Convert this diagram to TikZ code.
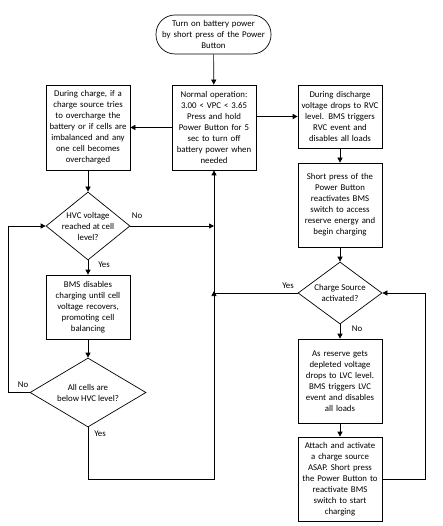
\documentclass[tikz,border=0pt]{standalone}
\usepackage{fontspec}
\setmainfont{Carlito}
\usetikzlibrary{arrows.meta,shapes.geometric}
\begin{document}
\begin{tikzpicture}[x=1pt,y=-1pt,
  every node/.style={font=\fontsize{8.8}{11}\selectfont},
  box/.style={draw, line width=0.7pt, rectangle, inner sep=0pt, minimum width=84pt, text width=82pt, align=center},
  term/.style={draw, line width=0.7pt, rectangle, rounded corners=19pt, inner sep=0pt, minimum width=115pt, minimum height=39pt, text width=110pt, align=center},
  dia/.style={draw, line width=0.7pt, diamond, inner sep=0pt},
  dtext/.style={align=center, inner sep=0pt},
  lbl/.style={inner sep=0pt},
  arr/.style={line width=0.7pt, -{Triangle[length=5pt,width=5pt]}},
  ln/.style={line width=0.7pt}]
\useasboundingbox (0,0) rectangle (442,526);

\node[term] (start) at (213.5,34.5) {Turn on battery power\\by short press of the Power\\Button};
\node[box, minimum height=85pt] (normal) at (214,127.5) {Normal operation:\\3.00 < VPC < 3.65\\Press and hold\\Power Button for 5\\sec to turn off\\battery power when\\needed};
\node[box, minimum height=85pt] (left) at (88,127.5) {During charge, if a\\charge source tries\\to overcharge the\\battery or if cells are\\imbalanced and any\\one cell becomes\\overcharged};
\node[box, minimum height=63pt] (dis) at (340,116.5) {During discharge\\voltage drops to RVC\\level. BMS triggers\\RVC event and\\disables all loads};
\node[box, minimum height=84pt] (short) at (340,205) {Short press of the\\Power Button\\reactivates BMS\\switch to access\\reserve energy and\\begin charging};

\node[dia, minimum width=84pt, minimum height=68pt] (hvc) at (88,226) {};
\node[dtext] (hvct) at (hvc) {HVC voltage\\reached at cell\\level?};
\node[box, minimum height=64pt] (bms) at (88,307) {BMS disables\\charging until cell\\voltage recovers,\\promoting cell\\balancing};
\node[dia, minimum width=116pt, minimum height=69pt] (allc) at (88,392.5) {};
\node[dtext] (allct) at (allc) {All cells are\\below HVC level?};

\node[dia, minimum width=84pt, minimum height=62pt] (cs) at (340,293) {};
\node[dtext] (cst) at (cs) {Charge Source\\activated?};
\node[box, minimum height=84pt] (res) at (340,381) {As reserve gets\\depleted voltage\\drops to LVC level.\\BMS triggers LVC\\event and disables\\all loads};
\node[box, minimum height=84pt] (att) at (340,479) {Attach and activate\\a charge source\\ASAP. Short press\\the Power Button to\\reactivate BMS\\switch to start\\charging};

\coordinate (jn) at (214,226);
\coordinate (jy) at (214,293);
\coordinate (jyu) at (214,291);
\coordinate (lb) at (214,479);
\coordinate (ll) at (8,392.5);
\coordinate (rr) at (425,479);

% connectors
\draw[arr] (start) -- (normal);
\draw[arr] (normal.west) -- (left.east);
\draw[arr] (normal.east |- dis.west) -- (dis.west);
\draw[arr] (dis) -- (short);
\draw[arr] (short) -- (cs.north);
\draw[arr] (left) -- (hvc.north);
\draw[arr] (hvc.south) -- (bms);
\draw[arr] (bms) -- (allc.north);
\draw[arr] (allc.west) -- (ll) |- (hvc.west);
\draw[arr] (allc.south) |- (lb) -- (normal.south);
\draw[arr] (hvc.east) -- (jn);
\draw[ln] (cs.west) -- (jy);
\draw[arr] (jy) -- (jyu);
\draw[arr] (cs.south) -- (res);
\draw[arr] (res) -- (att);
\draw[arr] (att.east) -- (rr) |- (cs.east);

% labels
\node[lbl] (l1) at (137,216) {No};
\node[lbl] (l2) at (104,265) {Yes};
\node[lbl] (l3) at (23,385) {No};
\node[lbl] (l4) at (100,434) {Yes};
\node[lbl] (l5) at (288,286) {Yes};
\node[lbl] (l6) at (357,329) {No};
\end{tikzpicture}
\end{document}
